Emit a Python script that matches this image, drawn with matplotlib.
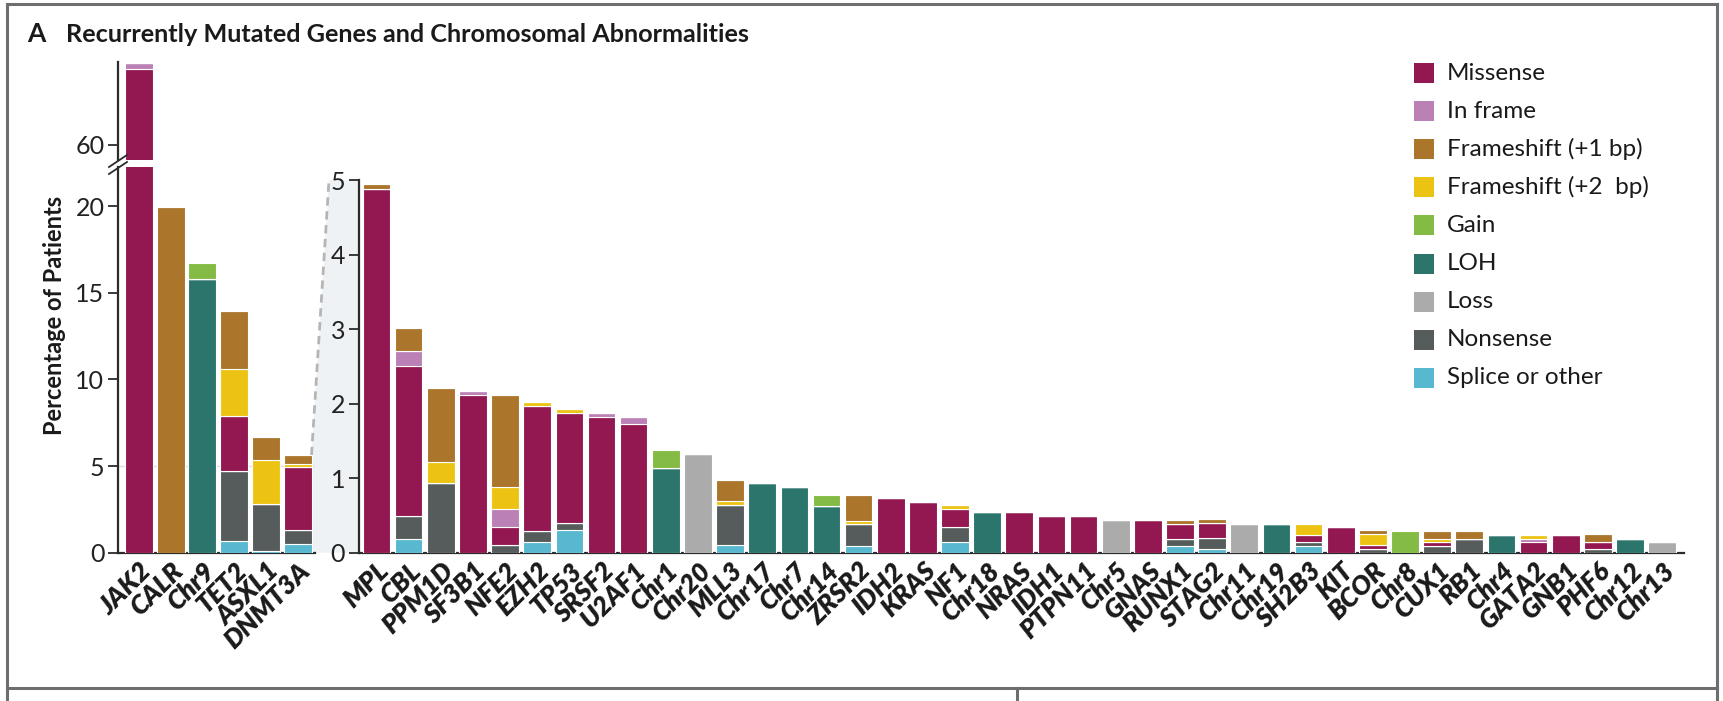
import matplotlib
matplotlib.use("Agg")
import matplotlib.pyplot as plt
from matplotlib.lines import Line2D
from matplotlib.patches import Polygon, Rectangle
import numpy as np

plt.rcParams['font.family'] = ['Lato', 'DejaVu Sans']

W, H = 1723, 701

# mutation classes, bottom-to-top stacking order
types = ["Splice or other", "Nonsense", "LOH", "Loss", "Missense",
         "In frame", "Frameshift (+2  bp)", "Frameshift (+1 bp)", "Gain"]
colors = {
    "Missense": "#931852",
    "In frame": "#bb80b5",
    "Frameshift (+1 bp)": "#ab752c",
    "Frameshift (+2  bp)": "#ecc312",
    "Gain": "#84bb45",
    "LOH": "#2b756c",
    "Loss": "#ababab",
    "Nonsense": "#565b5b",
    "Splice or other": "#58b8d0",
}
legend_order = ["Missense", "In frame", "Frameshift (+1 bp)", "Frameshift (+2  bp)",
                "Gain", "LOH", "Loss", "Nonsense", "Splice or other"]

# most frequent lesions
left_genes = ["JAK2", "CALR", "Chr9", "TET2", "ASXL1", "DNMT3A"]
left_vals = {
    "Splice or other": [0, 0, 0, 0.67, 0.10, 0.48],
    "Nonsense": [0, 0, 0, 4.02, 2.73, 0.83],
    "LOH": [0, 0, 15.8, 0, 0, 0],
    "Loss": [0, 0, 0, 0, 0, 0],
    "Missense": [64.37, 0, 0, 3.21, 0, 3.62],
    "In frame": [0.34, 0, 0, 0, 0, 0],
    "Frameshift (+2  bp)": [0, 0, 0, 2.70, 2.52, 0.20],
    "Frameshift (+1 bp)": [0, 19.93, 0, 3.32, 1.30, 0.50],
    "Gain": [0, 0, 0.90, 0, 0, 0],
}

# remaining lesions (zoomed scale)
right_genes = ["MPL", "CBL", "PPM1D", "SF3B1", "NFE2", "EZH2", "TP53", "SRSF2", "U2AF1",
               "Chr1", "Chr20", "MLL3", "Chr17", "Chr7", "Chr14", "ZRSR2", "IDH2", "KRAS",
               "NF1", "Chr18", "NRAS", "IDH1", "PTPN11", "Chr5", "GNAS", "RUNX1", "STAG2",
               "Chr11", "Chr19", "SH2B3", "KIT", "BCOR", "Chr8", "CUX1", "RB1", "Chr4",
               "GATA2", "GNB1", "PHF6", "Chr12", "Chr13"]
right_vals = {
    "Splice or other": [0, 0.19, 0, 0, 0, 0.15, 0.30, 0, 0, 0, 0, 0.10, 0, 0, 0, 0.09, 0, 0,
                        0.14, 0, 0, 0, 0, 0, 0, 0.09, 0.05, 0, 0, 0.09, 0, 0, 0, 0, 0, 0,
                        0, 0, 0, 0, 0],
    "Nonsense": [0, 0.30, 0.93, 0, 0.10, 0.14, 0.10, 0, 0, 0, 0, 0.54, 0, 0, 0, 0.29, 0, 0,
                 0.20, 0, 0, 0, 0, 0, 0, 0.10, 0.15, 0, 0, 0.05, 0, 0.05, 0, 0.09, 0.19, 0,
                 0, 0, 0.05, 0, 0],
    "LOH": [0, 0, 0, 0, 0, 0, 0, 0, 0, 1.13, 0, 0, 0.93, 0.88, 0.63, 0, 0, 0,
            0, 0.54, 0, 0, 0, 0, 0, 0, 0, 0, 0.39, 0, 0, 0, 0, 0, 0, 0.24,
            0, 0, 0, 0.19, 0],
    "Loss": [0, 0, 0, 0, 0, 0, 0, 0, 0, 0, 1.33, 0, 0, 0, 0, 0, 0, 0,
             0, 0, 0, 0, 0, 0.44, 0, 0, 0, 0.39, 0, 0, 0, 0, 0, 0, 0, 0,
             0, 0, 0, 0, 0.14],
    "Missense": [4.88, 2.02, 0, 2.11, 0.24, 1.68, 1.48, 1.82, 1.72, 0, 0, 0, 0, 0, 0, 0, 0.73, 0.68,
                 0.25, 0, 0.54, 0.49, 0.49, 0, 0.44, 0.20, 0.20, 0, 0, 0.10, 0.34, 0.05, 0, 0.05, 0, 0,
                 0.14, 0.24, 0.10, 0, 0],
    "In frame": [0, 0.20, 0, 0.06, 0.25, 0, 0, 0.05, 0.10, 0, 0, 0, 0, 0, 0, 0, 0, 0,
                 0, 0, 0, 0, 0, 0, 0, 0, 0, 0, 0, 0, 0, 0, 0, 0, 0, 0,
                 0.05, 0, 0, 0, 0],
    "Frameshift (+2  bp)": [0, 0, 0.29, 0, 0.29, 0.05, 0.05, 0, 0, 0, 0, 0.05, 0, 0, 0, 0.05, 0, 0,
                            0.05, 0, 0, 0, 0, 0, 0, 0, 0, 0, 0, 0.15, 0, 0.15, 0, 0.05, 0, 0,
                            0.05, 0, 0, 0, 0],
    "Frameshift (+1 bp)": [0.06, 0.30, 0.99, 0, 1.24, 0, 0, 0, 0, 0, 0, 0.29, 0, 0, 0, 0.34, 0, 0,
                           0, 0, 0, 0, 0, 0, 0, 0.05, 0.05, 0, 0, 0, 0, 0.05, 0, 0.10, 0.10, 0,
                           0, 0, 0.10, 0, 0],
    "Gain": [0, 0, 0, 0, 0, 0, 0, 0, 0, 0.25, 0, 0, 0, 0, 0.15, 0, 0, 0,
             0, 0, 0, 0, 0, 0, 0, 0, 0, 0, 0, 0, 0, 0, 0.29, 0, 0, 0,
             0, 0, 0, 0, 0],
}

AX_COLOR = "#2b2b2b"
TICK_SIZE = 18


def px(x, y):
    return x / W, 1 - y / H


def stack(ax, names, vals, width):
    x = np.arange(len(names))
    bottom = np.zeros(len(names))
    for t in types:
        v = np.array(vals[t], dtype=float)
        ax.bar(x, v, width, bottom=bottom, color=colors[t], edgecolor="white",
               linewidth=0.8, zorder=3)
        bottom += v
    return bottom


def style(ax, bottom_spine=True):
    ax.patch.set_alpha(0)
    for s in ["top", "right"]:
        ax.spines[s].set_visible(False)
    ax.spines["left"].set_color(AX_COLOR)
    ax.spines["left"].set_linewidth(1.6)
    ax.spines["bottom"].set_color(AX_COLOR)
    ax.spines["bottom"].set_linewidth(1.6)
    ax.spines["bottom"].set_visible(bottom_spine)
    ax.tick_params(axis="y", direction="out", length=7, width=1.3, color=AX_COLOR,
                   labelsize=TICK_SIZE, labelcolor="#222222", pad=3)
    ax.tick_params(axis="x", length=0)


def xlabels(ax, names):
    ax.set_xticks(np.arange(len(names)))
    ax.set_xticklabels(names, rotation=45, ha="right", va="top", rotation_mode="anchor",
                       fontsize=19, fontweight="heavy", fontstyle="italic", color="#1a1a1a")
    ax.tick_params(axis="x", pad=4)


fig = plt.figure(figsize=(W / 100, H / 100), dpi=100)

# geometry of the panels in pixels
l_left, l_right = 118.3, 315.0
r_left, r_right = 359.0, 1684.3
base_y = 552.7

ax_lo = fig.add_axes([l_left / W, 1 - base_y / H, (l_right - l_left) / W, (base_y - 167.3) / H])
ax_hi = fig.add_axes([l_left / W, 1 - 160 / H, (l_right - l_left) / W, (160 - 62.3) / H])
ax_r = fig.add_axes([r_left / W, 1 - base_y / H, (r_right - r_left) / W, (base_y - 180) / H])

for ax in (ax_lo, ax_hi):
    left_tot = stack(ax, left_genes, left_vals, 0.88)
    ax.set_xlim(-0.653, 5.55)
ax_lo.set_ylim(0, 22.24)
ax_hi.set_ylim(59.13, 64.77)
ax_lo.set_yticks([0, 5, 10, 15, 20])
ax_hi.set_yticks([60])
ax_lo.axhline(5, color="#dddddd", lw=1, zorder=1)
style(ax_lo)
style(ax_hi, bottom_spine=False)
ax_hi.set_xticks([])
xlabels(ax_lo, left_genes)

right_tot = stack(ax_r, right_genes, right_vals, 0.86)
ax_r.set_xlim(-0.545, 40.69)
ax_r.set_ylim(0, 5)
ax_r.set_yticks([0, 1, 2, 3, 4, 5])
style(ax_r)
xlabels(ax_r, right_genes)

# zoom wedge from the last left bar up to the top of the right axis
fig.canvas.draw()
to_fig = fig.transFigure.inverted()
p_low = ax_lo.transData.transform((5 + 0.44, left_tot[-1]))
p_top = ax_r.transData.transform((ax_r.get_xlim()[0], 5))
p_base = ax_r.transData.transform((ax_r.get_xlim()[0], 0))
x_low, y_low = to_fig.transform(p_low)
x_sp, y_top = to_fig.transform(p_top)
_, y_base = to_fig.transform(p_base)
x_dash = x_sp - 30 / W
wedge = Polygon([(x_low, y_base), (x_low, y_low), (x_dash, y_top), (x_sp, y_top), (x_sp, y_base)],
                closed=True, transform=fig.transFigure, facecolor="#eef2f5", edgecolor="none",
                zorder=-5)
fig.patches.append(wedge)
fig.add_artist(Line2D([x_low, x_dash], [y_low, y_top], transform=fig.transFigure,
                      color="#b5b5b5", lw=2, ls=(0, (3, 2)), zorder=-4))

# axis break marks
for dy in (0, 7):
    a = px(109, 167 + dy)
    b = px(127, 155 + dy)
    fig.add_artist(Line2D([a[0], b[0]], [a[1], b[1]], transform=fig.transFigure,
                          color=AX_COLOR, lw=1.3))

# y label and headings
fig.text(*px(55, 315), "Percentage of Patients", rotation=90, ha="center", va="center",
         fontsize=17, fontweight="bold", color="#1a1a1a")
fig.text(*px(27, 34), "A", ha="left", va="center", fontsize=19, fontweight="bold", color="#1a1a1a")
fig.text(*px(66, 34), "Recurrently Mutated Genes and Chromosomal Abnormalities", ha="left",
         va="center", fontsize=18.2, fontweight="bold", color="#1a1a1a")

# legend
for i, name in enumerate(legend_order):
    yc = 73 + 38.1 * i
    x0, y0 = px(1414, yc + 10)
    fig.patches.append(Rectangle((x0, y0), 20 / W, 20 / H, transform=fig.transFigure,
                                 facecolor=colors[name], edgecolor="none"))
    fig.text(*px(1447, yc), name, ha="left", va="center", fontsize=17.5, color="#1a1a1a")

# panel frame
frame = "#6e6e6e"
segs = [((7, 4), (1717, 4)), ((7, 4), (7, 701)), ((1717, 4), (1717, 701)),
        ((7, 688), (1717, 688)), ((1017, 688), (1017, 701))]
for a, b in segs:
    pa, pb = px(*a), px(*b)
    fig.add_artist(Line2D([pa[0], pb[0]], [pa[1], pb[1]], transform=fig.transFigure,
                          color=frame, lw=2.2))

fig.savefig("out.png", dpi=100)
